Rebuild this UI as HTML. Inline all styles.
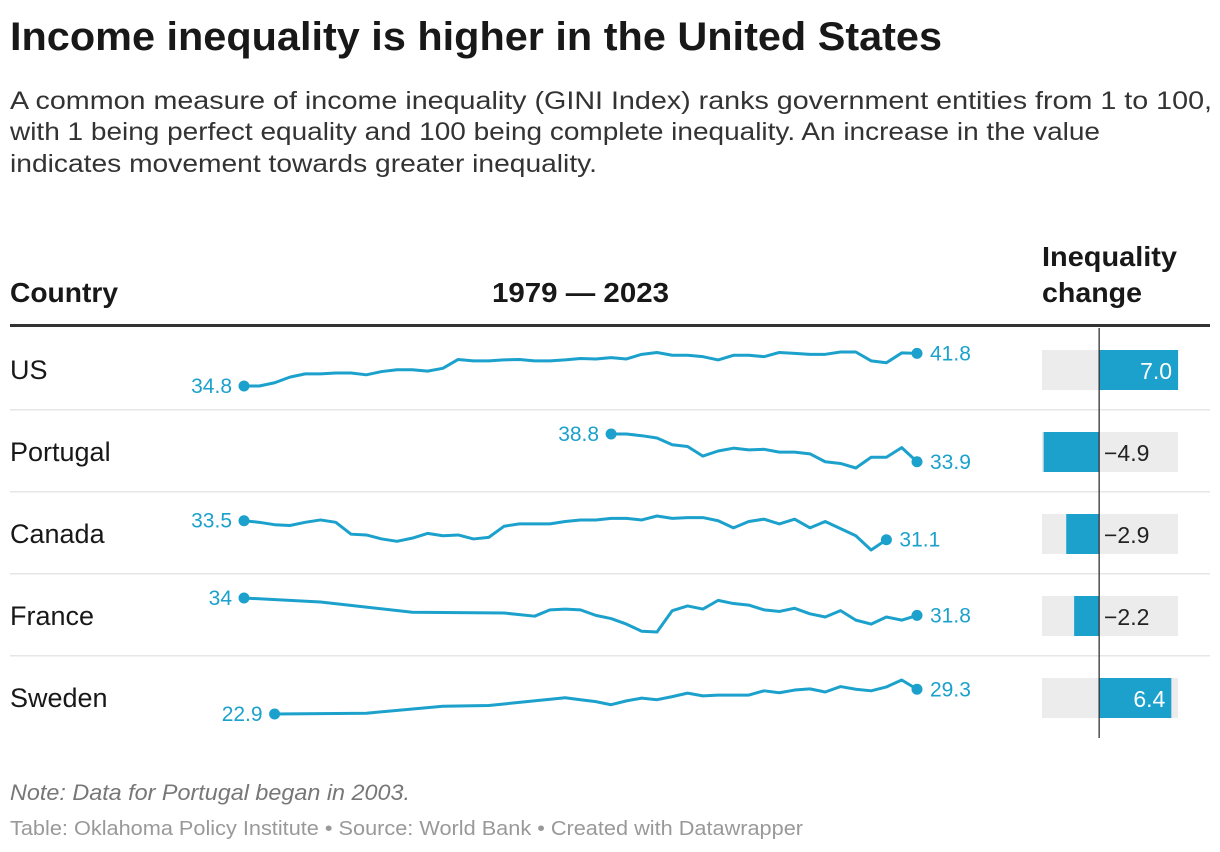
<!DOCTYPE html>
<html><head><meta charset="utf-8"><style>
body{margin:0;width:1220px;height:852px;background:#fff;font-family:"Liberation Sans",Roboto,sans-serif;color:#181818;position:relative;overflow:hidden}
</style></head><body>
<svg id="c" width="1220" height="852" style="position:absolute;left:0;top:0">
<text x="10" y="50" font-size="40" font-weight="bold" fill="#181818" textLength="932" lengthAdjust="spacingAndGlyphs">Income inequality is higher in the United States</text>
<g font-size="25" fill="#333">
<text x="10" y="109" textLength="1202" lengthAdjust="spacingAndGlyphs">A common measure of income inequality (GINI Index) ranks government entities from 1 to 100,</text>
<text x="10" y="140" textLength="1090" lengthAdjust="spacingAndGlyphs">with 1 being perfect equality and 100 being complete inequality. An increase in the value</text>
<text x="10" y="172" textLength="587" lengthAdjust="spacingAndGlyphs">indicates movement towards greater inequality.</text>
</g>
<text x="10" y="800" font-size="22" font-style="italic" fill="#777" textLength="400" lengthAdjust="spacingAndGlyphs">Note: Data for Portugal began in 2003.</text>
<text x="10" y="835" font-size="20" fill="#999" textLength="793" lengthAdjust="spacingAndGlyphs">Table: Oklahoma Policy Institute • Source: World Bank • Created with Datawrapper</text>
</svg>
<script>
const countries=["US","Portugal","Canada","France","Sweden"];
const startYear=1979, endYear=2023;
const usVals=[34.8,34.8,35.5,36.7,37.4,37.4,37.6,37.6,37.2,37.9,38.3,38.3,38.0,38.6,40.5,40.2,40.2,40.4,40.5,40.2,40.2,40.4,40.7,40.6,40.9,40.6,41.6,42.0,41.4,41.4,41.1,40.4,41.4,41.4,41.1,42.0,41.8,41.6,41.6,42.1,42.1,40.2,39.8,41.9,41.8];
const ptVals=[null,null,null,null,null,null,null,null,null,null,null,null,null,null,null,null,null,null,null,null,null,null,null,null,38.8,38.8,38.5,38.1,36.9,36.6,34.9,35.8,36.3,36.0,36.1,35.6,35.6,35.3,33.9,33.6,32.8,34.7,34.7,36.4,33.9];
const caVals=[33.5,33.3,33.0,32.9,33.3,33.6,33.3,31.8,31.7,31.2,30.9,31.3,31.9,31.6,31.7,31.2,31.4,32.8,33.1,33.1,33.1,33.4,33.6,33.6,33.8,33.8,33.6,34.1,33.8,33.9,33.9,33.5,32.6,33.4,33.7,33.1,33.7,32.6,33.4,32.5,31.6,29.8,31.1,null,null];
const frVals=[34.0,null,null,null,null,33.5,null,null,null,null,null,32.2,null,null,null,null,null,32.1,null,31.7,32.5,32.6,32.5,31.8,31.4,30.7,29.8,29.7,32.4,33.0,32.6,33.7,33.3,33.1,32.5,32.3,32.7,32.0,31.6,32.4,31.2,30.7,31.6,31.2,31.8];
const seVals=[null,null,22.9,null,null,null,null,null,23.1,null,null,null,null,24.9,null,null,25.1,null,null,null,null,27.1,26.6,26.1,25.3,26.3,27.0,26.6,27.4,28.3,27.6,27.8,27.8,27.8,28.9,28.4,29.1,29.4,28.6,30.0,29.3,28.9,29.9,31.7,29.3];
const changes=[7.0,-4.9,-2.9,-2.2,6.4];
const series=[usVals,ptVals,caVals,frVals,seVals];
const svg=document.getElementById('c');const NS='http://www.w3.org/2000/svg';
function mk(t,a,txt){const e=document.createElementNS(NS,t);for(const k in a)e.setAttribute(k,a[k]);if(txt!==undefined)e.textContent=txt;svg.appendChild(e);return e;}
const blue='#1ba1cc';
const xYear=y=>244+(y-startYear)*(917-244)/(endYear-startYear);
const xBar=v=>1099+v*11.3;
const rowTop=i=>328+i*82;
let h=mk('text',{x:10,y:302,'font-size':28,'font-weight':'bold',fill:'#181818',textLength:108,lengthAdjust:'spacingAndGlyphs'},'Country');

h=mk('text',{x:492,y:302,'font-size':28,'font-weight':'bold',fill:'#181818',textLength:177,lengthAdjust:'spacingAndGlyphs'},startYear+' — '+endYear);

h=mk('text',{x:1042,y:266,'font-size':28,'font-weight':'bold',fill:'#181818',textLength:135,lengthAdjust:'spacingAndGlyphs'},'Inequality');

mk('text',{x:1042,y:302,'font-size':28,'font-weight':'bold',fill:'#181818',textLength:100,lengthAdjust:'spacingAndGlyphs'},'change');
mk('rect',{x:10,y:324,width:1200,height:3,fill:'#333'});
countries.forEach((c,i)=>{
  const top=rowTop(i);
  if(i>0)mk('rect',{x:10,y:top-1,width:1200,height:1.5,fill:'#e6e6e6'});
  const lab=mk('text',{x:10,y:top+51,'font-size':27,fill:'#181818'},c);
  
  const vals=series[i];const pts=[];
  vals.forEach((v,k)=>{if(v!==null)pts.push([startYear+k,v]);});
  const vs=pts.map(p=>p[1]);const mn=Math.min(...vs),mx=Math.max(...vs);
  const yv=v=>top+58-(v-mn)/(mx-mn)*34;
  const line=mk('polyline',{points:pts.map(p=>xYear(p[0])+','+yv(p[1])).join(' '),fill:'none',stroke:blue,'stroke-width':3,'stroke-linejoin':'round'});
  
  const f=pts[0],l=pts[pts.length-1];
  mk('circle',{cx:xYear(f[0]),cy:yv(f[1]),r:5.5,fill:blue});
  mk('circle',{cx:xYear(l[0]),cy:yv(l[1]),r:5.5,fill:blue});
  const fmt=v=>(Math.round(v*10)%10===0?String(Math.round(v)):v.toFixed(1));
  const sl=mk('text',{x:xYear(f[0])-12,y:yv(f[1])+7,'font-size':21,fill:blue,'text-anchor':'end'},fmt(f[1]));
  
  const el=mk('text',{x:xYear(l[0])+13,y:yv(l[1])+7,'font-size':21,fill:blue},fmt(l[1]));
  
  mk('rect',{x:1042,y:top+22,width:136,height:40,fill:'#ececec'});
  const v=changes[i];const x0=xBar(Math.min(0,v)),w=Math.abs(xBar(v)-xBar(0));
  const b=mk('rect',{x:x0,y:top+22,width:w,height:40,fill:blue});
  
  const txt=(v<0?'−':'')+Math.abs(v).toFixed(1);
  const bl=v>=0?mk('text',{x:xBar(v)-6,y:top+51,'font-size':23,fill:'#fff','text-anchor':'end'},txt)
              :mk('text',{x:1104,y:top+51,'font-size':23,fill:'#222'},txt);
  
});
mk('rect',{x:1098.5,y:328,width:1.3,height:410,fill:'#333'});
</script>
</body></html>
